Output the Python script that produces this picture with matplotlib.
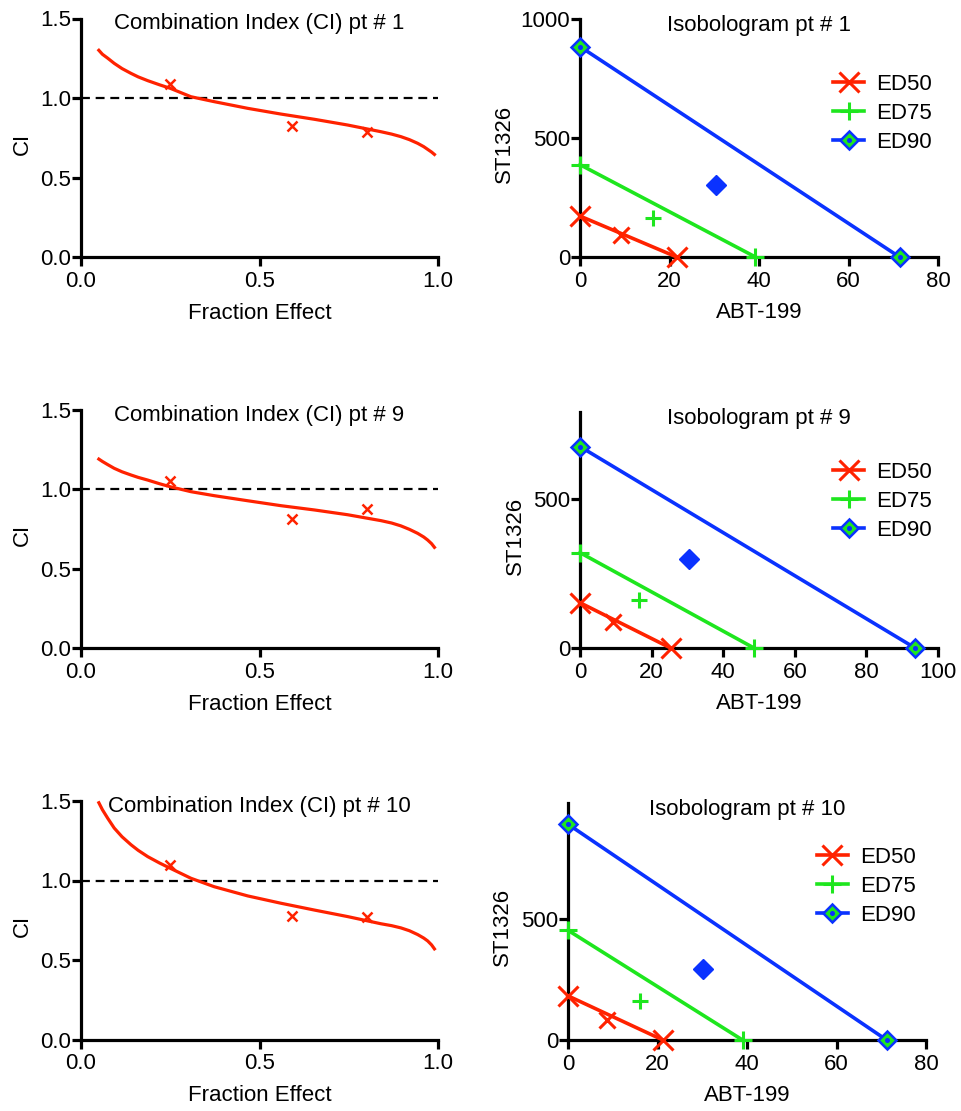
import matplotlib
matplotlib.use("Agg")
import matplotlib.pyplot as plt
from matplotlib.lines import Line2D

plt.rcParams['font.family'] = ['Liberation Sans', 'DejaVu Sans']

RED = '#ff2200'
GREEN = '#1ee61e'
BLUE = '#0a32ff'

# ---- Combination index curves ----
fa_curve = [0.05, 0.06, 0.075, 0.093, 0.115, 0.14, 0.16, 0.187, 0.22, 0.25,
            0.308, 0.373, 0.467, 0.56, 0.654, 0.747, 0.84, 0.87, 0.896,
            0.92, 0.943, 0.96, 0.971, 0.982, 0.99]
ci_curve_pt1 = [1.30, 1.275, 1.25, 1.218, 1.185, 1.155, 1.133, 1.109, 1.083, 1.061,
                1.008, 0.977, 0.935, 0.899, 0.866, 0.830, 0.788, 0.773, 0.757,
                0.738, 0.715, 0.694, 0.677, 0.660, 0.645]
ci_curve_pt9 = [1.19, 1.175, 1.155, 1.132, 1.11, 1.09, 1.075, 1.058, 1.035, 1.016,
                0.985, 0.960, 0.928, 0.897, 0.870, 0.840, 0.803, 0.788, 0.770,
                0.748, 0.723, 0.700, 0.681, 0.658, 0.635]
ci_curve_pt10 = [1.489, 1.445, 1.391, 1.330, 1.275, 1.225, 1.19, 1.150, 1.11, 1.077,
                 1.014, 0.961, 0.903, 0.857, 0.814, 0.773, 0.728, 0.716, 0.702,
                 0.684, 0.660, 0.638, 0.620, 0.595, 0.570]

fa_points = [0.25, 0.59, 0.80]
ci_points_pt1 = [1.088, 0.826, 0.788]
ci_points_pt9 = [1.054, 0.811, 0.874]
ci_points_pt10 = [1.097, 0.777, 0.773]

# ---- Isobolograms: axial doses (ABT-199, ST1326) and combination points ----
ed_names = ['ED50', 'ED75', 'ED90']
abt_axis_pt1 = [21.6, 39.2, 71.4]
st_axis_pt1 = [172, 388, 884]
abt_combo_pt1 = [9.2, 16.4, 30.3]
st_combo_pt1 = [92, 162, 301]

abt_axis_pt9 = [25.3, 48.6, 93.6]
st_axis_pt9 = [152, 320, 676]
abt_combo_pt9 = [9.3, 16.6, 30.4]
st_combo_pt9 = [88, 161, 298]

abt_axis_pt10 = [21.2, 39.0, 71.2]
st_axis_pt10 = [183, 455, 895]
abt_combo_pt10 = [8.8, 16.2, 30.1]
st_combo_pt10 = [85, 161, 296]

W, H = 961, 1111
FS = 16
fig = plt.figure(figsize=(W / 100, H / 100), dpi=100, facecolor='w')


def px_axes(x0, x1, ytop, ybot):
    return fig.add_axes([x0 / W, 1 - ybot / H, (x1 - x0) / W, (ybot - ytop) / H])


def style(ax):
    for s in ['top', 'right']:
        ax.spines[s].set_visible(False)
    for s in ['left', 'bottom']:
        ax.spines[s].set_linewidth(2.3)
    ax.tick_params(direction='out', length=6.5, width=2.3, labelsize=FS, color='k')
    ax.tick_params(axis='y', pad=0.5)
    ax.tick_params(axis='x', pad=3.5)


def ci_panel(ax, ci_curve, ci_points, title):
    style(ax)
    ax.plot([0, 1], [1, 1], color='k', ls=(0, (4, 2.6)), lw=1.6, zorder=2)
    ax.plot(fa_curve, ci_curve, color=RED, lw=2.3, zorder=3, clip_on=False,
            solid_joinstyle='round')
    ax.plot(fa_points, ci_points, ls='none', marker='x', ms=7, mew=1.8,
            color=RED, zorder=4)
    ax.set_xlim(0, 1)
    ax.set_ylim(0, 1.5)
    ax.set_xticks([0, 0.5, 1.0])
    ax.set_xticklabels(['0.0', '0.5', '1.0'])
    ax.set_yticks([0, 0.5, 1.0, 1.5])
    ax.set_yticklabels(['0.0', '0.5', '1.0', '1.5'])
    ax.set_xlabel('Fraction Effect', fontsize=FS)
    ax.set_ylabel('CI', fontsize=FS)
    ax.xaxis.label.set_va('center')
    ax.yaxis.label.set_va('center')
    ax.xaxis.set_label_coords(0.5, -0.235)
    ax.yaxis.set_label_coords(-0.165, 0.475)
    ax.text(0.5, 0.978, title, transform=ax.transAxes, ha='center', va='center',
            fontsize=FS)


def iso_panel(ax, abt_axis, st_axis, abt_combo, st_combo, title, xmax, ymax,
              xticks, yticks, ylab_x, leg_xy):
    style(ax)
    la, = ax.plot([0, abt_axis[0]], [st_axis[0], 0], color=RED, lw=2.6,
                  marker='x', ms=14, mew=2.2, clip_on=False, zorder=5)
    lb, = ax.plot([0, abt_axis[1]], [st_axis[1], 0], color=GREEN, lw=2.6,
                  marker='+', ms=13, mew=2.2, clip_on=False, zorder=5)
    lc, = ax.plot([0, abt_axis[2]], [st_axis[2], 0], color=BLUE, lw=2.6,
                  marker='D', ms=9, mfc=GREEN, mec=BLUE, mew=1.8,
                  clip_on=False, zorder=5)
    ax.plot([0, abt_axis[2]], [st_axis[2], 0], ls='none', marker='o', ms=2.6,
            color=BLUE, clip_on=False, zorder=6)
    ax.plot(abt_combo[0], st_combo[0], ls='none', marker='x', ms=11, mew=2.2,
            color=RED, zorder=5)
    ax.plot(abt_combo[1], st_combo[1], ls='none', marker='+', ms=12, mew=2.2,
            color=GREEN, zorder=5)
    ax.plot(abt_combo[2], st_combo[2], ls='none', marker='D', ms=10,
            color=BLUE, mec=BLUE, zorder=5)
    ax.set_xlim(0, xmax)
    ax.set_ylim(0, ymax)
    ax.set_xticks(xticks)
    ax.set_yticks(yticks)
    ax.set_xlabel('ABT-199', fontsize=FS)
    ax.set_ylabel('ST1326', fontsize=FS)
    ax.xaxis.label.set_va('center')
    ax.yaxis.label.set_va('center')
    ax.xaxis.set_label_coords(0.5, -0.235)
    ax.yaxis.set_label_coords(ylab_x, 0.475)
    ax.text(0.5, 0.972, title, transform=ax.transAxes, ha='center', va='center',
            fontsize=FS)
    dot = Line2D([], [], ls='none', marker='o', ms=2.6, color=BLUE)
    ax.legend([la, lb, (lc, dot)], ed_names, loc='upper left',
              bbox_to_anchor=leg_xy, frameon=False, fontsize=FS,
              handlelength=1.4, handletextpad=0.55, labelspacing=0.36,
              borderpad=0, borderaxespad=0)


ax1 = px_axes(81, 438, 18.5, 257)
ci_panel(ax1, ci_curve_pt1, ci_points_pt1, 'Combination Index (CI) pt # 1')
ax2 = px_axes(81, 438, 409.8, 648.3)
ci_panel(ax2, ci_curve_pt9, ci_points_pt9, 'Combination Index (CI) pt # 9')
ax3 = px_axes(81, 438, 801, 1039.5)
ci_panel(ax3, ci_curve_pt10, ci_points_pt10, 'Combination Index (CI) pt # 10')

ax4 = px_axes(580, 938, 19, 257)
iso_panel(ax4, abt_axis_pt1, st_axis_pt1, abt_combo_pt1, st_combo_pt1,
          'Isobologram pt # 1', 80, 1000, [0, 20, 40, 60, 80], [0, 500, 1000],
          -0.212, (0.707, 0.77))
ax5 = px_axes(580, 938, 412, 648)
iso_panel(ax5, abt_axis_pt9, st_axis_pt9, abt_combo_pt9, st_combo_pt9,
          'Isobologram pt # 9', 100, 792, [0, 20, 40, 60, 80, 100], [0, 500],
          -0.179, (0.707, 0.79))
ax6 = px_axes(568, 926, 803, 1040)
iso_panel(ax6, abt_axis_pt10, st_axis_pt10, abt_combo_pt10, st_combo_pt10,
          'Isobologram pt # 10', 80, 983, [0, 20, 40, 60, 80], [0, 500],
          -0.182, (0.695, 0.815))

fig.savefig('out.png', dpi=100, facecolor='w')
